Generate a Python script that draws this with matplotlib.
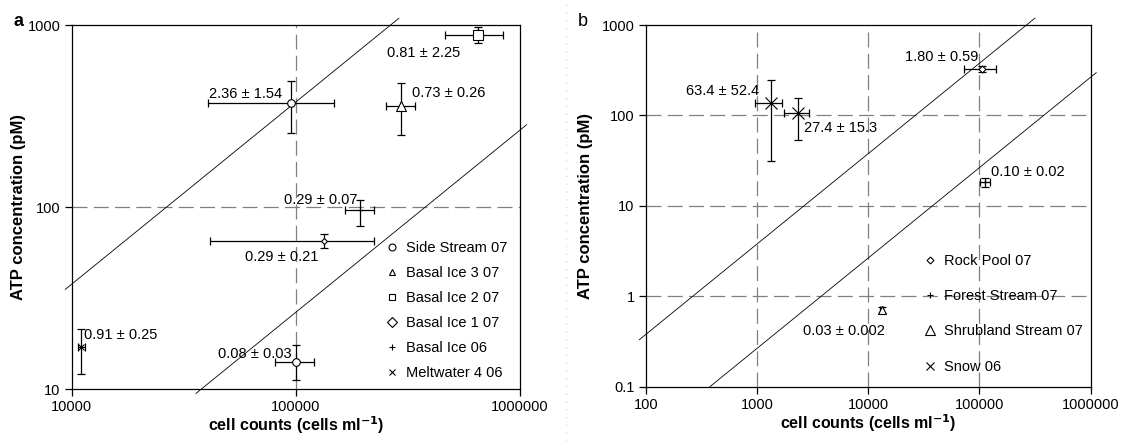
import matplotlib
matplotlib.use('Agg')
import matplotlib.pyplot as plt
from matplotlib.lines import Line2D
import numpy as np

plt.rcParams['font.family'] = ['Liberation Sans', 'DejaVu Sans']
plt.rcParams['font.size'] = 10.5

# ---- panel a : glacial samples ----
a_names = ['Side Stream 07', 'Side Stream 07', 'Basal Ice 3 07', 'Basal Ice 2 07',
           'Basal Ice 1 07', 'Basal Ice 06', 'Meltwater 4 06']
a_marker = ['o', 'o', '^', 's', 'D', '+', 'x']
a_msize = [5.5, 5.5, 7, 6.5, 3, 5, 5]
a_cells = [95000, 100000, 295000, 652000, 134000, 194000, 11000]
a_cells_lo = [40400, 80700, 253000, 464000, 41300, 165000, 10700]
a_cells_hi = [147600, 121000, 340000, 840000, 224000, 224000, 11500]
a_atp = [374, 14.2, 360, 881, 65.5, 96, 17.0]
a_atp_lo = [256, 11.2, 249, 797, 60.0, 79, 12.1]
a_atp_hi = [493, 17.4, 481, 975, 71.6, 110, 21.3]
a_text = ['2.36 \u00b1 1.54', '0.08 \u00b1 0.03', '0.73 \u00b1 0.26', '0.81 \u00b1 2.25',
          '0.29 \u00b1 0.21', '0.29 \u00b1 0.07', '0.91 \u00b1 0.25']
a_text_xy = [(86900, 417, 'right'), (95300, 15.7, 'right'), (331000, 421, 'left'),
             (256000, 698, 'left'), (59200, 53.0, 'left'), (187600, 108.8, 'right'),
             (11370, 19.8, 'left')]
a_legend = ['Side Stream 07', 'Basal Ice 3 07', 'Basal Ice 2 07', 'Basal Ice 1 07',
            'Basal Ice 06', 'Meltwater 4 06']
a_legend_mk = ['o', '^', 's', 'D', '+', 'x']

# ---- panel b : non-glacial samples ----
b_marker = ['D', '+', '^', 'x', 'x']
b_msize = [3.5, 5, 6, 8, 8]
b_cells = [106000, 111000, 13200, 1343, 2340]
b_cells_lo = [73000, 101600, 12700, 962, 1750]
b_cells_hi = [142000, 124000, 13700, 1675, 2920]
b_atp = [326, 18.4, 0.71, 137, 107]
b_atp_lo = [305, 16.3, 0.66, 31.4, 53.6]
b_atp_hi = [348, 20.5, 0.76, 247, 156]
b_text = ['1.80 \u00b1 0.59', '0.10 \u00b1 0.02', '0.03 \u00b1 0.002',
          '63.4 \u00b1 52.4', '27.4 \u00b1 15.3']
b_text_xy = [(97300, 440, 'right'), (126000, 23.4, 'left'), (2590, 0.416, 'left'),
             (1052, 188, 'right'), (2650, 72.1, 'left')]
b_legend = ['Rock Pool 07', 'Forest Stream 07', 'Shrubland Stream 07', 'Snow 06']
b_legend_mk = ['D', '+', '^', 'x']
b_legend_ms = [3.5, 5, 6.5, 6]

# ATP per cell reference lines (pM per cells/ml)
ratio_hi = 3.78e-3
ratio_lo = 2.65e-4
a_line_hi = [9360, 288000]
a_line_lo = [35800, 1070000]
b_line_hi = [87.5, 315000]
b_line_lo = [378, 1120000]

fig = plt.figure(figsize=(11.21, 4.41), dpi=100)
ax1 = fig.add_axes([0.0640, 0.1172, 0.3999, 0.8261])
ax2 = fig.add_axes([0.5760, 0.1231, 0.3970, 0.8202])


def draw(ax, cells, clo, chi, atp, alo, ahi, markers, msizes, texts, text_xy):
    cells = np.array(cells, float)
    atp = np.array(atp, float)
    xerr = [cells - np.array(clo), np.array(chi) - cells]
    yerr = [atp - np.array(alo), np.array(ahi) - atp]
    for i in range(len(cells)):
        ax.errorbar(cells[i], atp[i], xerr=[[xerr[0][i]], [xerr[1][i]]],
                    yerr=[[yerr[0][i]], [yerr[1][i]]], fmt='none', ecolor='black',
                    elinewidth=0.9, capsize=3, capthick=0.9, zorder=3)
        ax.plot(cells[i], atp[i], marker=markers[i], ms=msizes[i], mfc='white',
                mec='black', mew=0.8, ls='none', zorder=4)
    for t, (x, y, ha) in zip(texts, text_xy):
        ax.text(x, y, t, ha=ha, va='center', fontsize=10.5, zorder=5)


def line(ax, xs, ratio):
    xs = np.array(xs, float)
    ax.plot(xs, xs * ratio, color='black', lw=0.6, clip_on=False, zorder=2)


def style(ax, xticks, yticks, ylabelpad):
    ax.set_xscale('log')
    ax.set_yscale('log')
    ax.set_xlim(xticks[0], xticks[-1])
    ax.set_ylim(yticks[0], yticks[-1])
    ax.set_xticks(xticks)
    ax.set_xticklabels([('%g' % v) if v < 1 else str(int(v)) for v in xticks])
    ax.set_yticks(yticks)
    ax.set_yticklabels([('%g' % v) if v < 1 else str(int(v)) for v in yticks])
    ax.minorticks_off()
    ax.tick_params(direction='out', length=5, width=0.9, pad=3, labelsize=10.5)
    for s in ax.spines.values():
        s.set_linewidth(0.9)
    for v in xticks[1:-1]:
        ax.axvline(v, color='#808080', lw=0.9, ls=(0, (12, 5)), zorder=1)
    for v in yticks[1:-1]:
        ax.axhline(v, color='#808080', lw=0.9, ls=(0, (12, 5)), zorder=1)
    ax.set_xlabel('cell counts (cells ml$^{\\mathbf{-1}}$)', fontsize=11.5,
                  fontweight='bold', labelpad=0)
    ax.set_ylabel('ATP concentration (pM)', fontsize=12, fontweight='bold',
                  labelpad=ylabelpad)


style(ax1, [1e4, 1e5, 1e6], [10, 100, 1000], 1)
style(ax2, [1e2, 1e3, 1e4, 1e5, 1e6], [0.1, 1, 10, 100, 1000], 6)

line(ax1, a_line_hi, ratio_hi)
line(ax1, a_line_lo, ratio_lo)
line(ax2, b_line_hi, ratio_hi)
line(ax2, b_line_lo, ratio_lo)

draw(ax1, a_cells, a_cells_lo, a_cells_hi, a_atp, a_atp_lo, a_atp_hi,
     a_marker, a_msize, a_text, a_text_xy)
draw(ax2, b_cells, b_cells_lo, b_cells_hi, b_atp, b_atp_lo, b_atp_hi,
     b_marker, b_msize, b_text, b_text_xy)

h1 = [Line2D([], [], marker=m, ms=5, mfc='white', mec='black', mew=0.8, ls='none')
      for m in a_legend_mk]
leg1 = ax1.legend(h1, a_legend, loc='lower left', bbox_to_anchor=(0.685, 0.01),
                  frameon=False, handlelength=1.0, handletextpad=0.45,
                  labelspacing=0.75, fontsize=10.5, borderaxespad=0)
h2 = [Line2D([], [], marker=m, ms=s, mfc='white', mec='black', mew=0.8, ls='none')
      for m, s in zip(b_legend_mk, b_legend_ms)]
leg2 = ax2.legend(h2, b_legend, loc='lower left', bbox_to_anchor=(0.61, 0.02),
                  frameon=False, handlelength=1.0, handletextpad=0.45,
                  labelspacing=1.45, fontsize=10.5, borderaxespad=0)
leg1.set_zorder(6)
leg2.set_zorder(6)

fig.text(0.012, 0.952, 'a', fontsize=13, fontweight='bold', ha='left', va='center')
fig.text(0.515, 0.952, 'b', fontsize=13, ha='left', va='center')

# faint dotted separator between the two panels
fig.add_artist(Line2D([0.505, 0.505], [0.0, 1.0], color='#c8c8c8', lw=0.8,
                      ls=(0, (1, 6)), transform=fig.transFigure))

fig.savefig('out.png', dpi=100)
